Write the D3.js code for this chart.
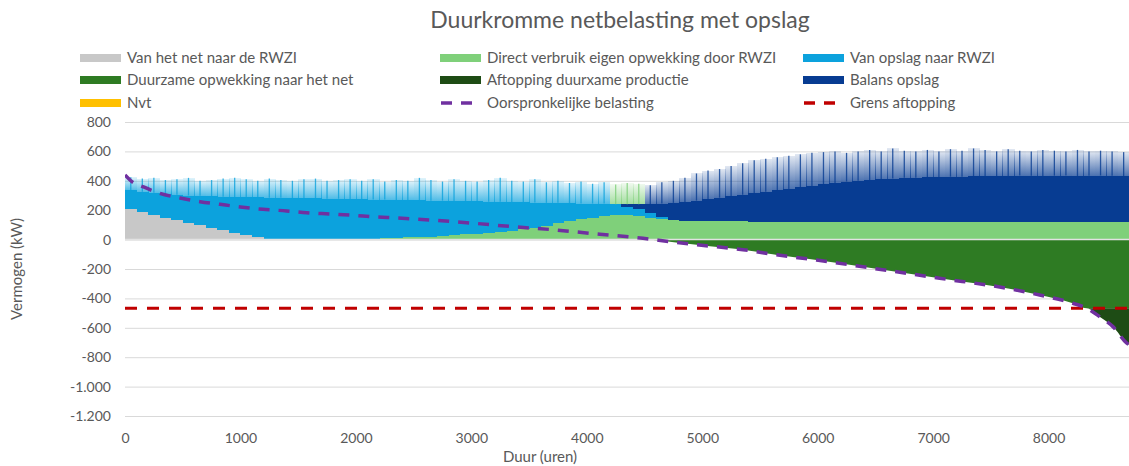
<!DOCTYPE html>
<html>
<head>
<meta charset="utf-8">
<title>Duurkromme netbelasting met opslag</title>
<style>
  body { margin: 0; background: #fff; }
  svg { display: block; font-family: Lato, "Open Sans", sans-serif; }
  .tick text { fill: #595959; font-size: 14px; font-family: Lato, "Open Sans", sans-serif; }
</style>
</head>
<body>
<svg width="1129" height="466"></svg>
<script src="https://d3js.org/d3.v7.min.js"></script>
<script>

// 100-hour bins along the sorted year (bin start hour)
var binStart = d3.range(0, 8760, 100);

// positive stack (kW), read per bin
var gray = [205,185,165,148,132,112,98,82,62,48,
            32,15,4,0,0,0,0,0,0,0,
            0,0,0,0,0,0,0,0,0,0,
            0,0,0,0,0,0,0,0,0,0,
            0,0,0,0,0,0,0,0,0,0,
            0,0,0,0,0,0,0,0,0,0,
            0,0,0,0,0,0,0,0,0,0,
            0,0,0,0,0,0,0,0,0,0,
            0,0,0,0,0,0,0,0];
var lightGreen = [0,0,0,0,0,0,0,0,0,0,
            0,0,0,0,0,0,0,0,0,0,
            5,5,10,10,15,15,20,25,30,35,
            40,45,50,60,70,80,95,110,125,140,
            150,160,165,165,160,150,140,130,125,125,
            125,125,125,125,122,122,122,122,120,120,
            120,120,120,120,120,120,120,120,120,120,
            120,118,120,120,118,120,120,118,120,120,
            120,118,120,120,118,120,120,120];
var lightBlue = [130,140,153,164,173,188,200,213,230,242,
            258,273,281,285,282,280,280,278,278,275,
            270,267,262,260,255,253,245,240,232,227,
            220,213,208,195,185,172,155,140,123,105,
            95,85,75,60,45,30,15,5,0,0,
            0,0,0,0,0,0,0,0,0,0,
            0,0,0,0,0,0,0,0,0,0,
            0,0,0,0,0,0,0,0,0,0,
            0,0,0,0,0,0,0,0];
var darkBlue = [0,0,0,0,0,0,0,0,0,0,
            0,0,0,0,0,0,0,0,0,0,
            0,0,0,0,0,0,0,0,0,0,
            0,0,0,0,0,0,0,0,0,0,
            0,0,0,15,35,60,90,115,130,140,
            150,160,170,180,193,203,213,223,235,245,
            255,265,275,280,285,290,295,300,300,305,
            305,310,308,312,315,310,312,318,315,312,
            315,318,312,315,318,315,312,310];
// highest spikes per bin
var peak = [425,415,420,405,410,420,400,405,415,420,
            410,400,415,405,400,410,415,400,405,410,
            400,410,395,405,400,420,405,395,410,400,
            395,405,420,400,395,410,390,400,385,395,
            380,390,375,385,380,370,390,400,420,450,
            470,480,500,520,540,550,560,570,580,590,
            595,600,590,600,610,600,620,605,600,610,
            600,615,605,620,610,600,615,605,600,610,
            605,600,610,600,605,600,595,600];

// original net load duration curve (hour, kW)
var loadHour = [0,60,160,300,476,650,823,1000,1195,1400,1573,1775,1977,2150,2355,2960,3360,3740,4113,4487,4720,4893,5240,5412,5610,5990,6477,7056,7636,7922,8210,8330,8442,8557,8675,8760];
var loadKW   = [440,395,358,315,283,258,240,222,206,195,183,174,165,155,147,115,88,65,36,9,-14,-30,-59,-75,-100,-139,-195,-263,-331,-377,-433,-467,-524,-592,-703,-740];
var grens = -467;

var yTicks = [-1200,-1000,-800,-600,-400,-200,0,200,400,600,800];
var xTicks = [0,1000,2000,3000,4000,5000,6000,7000,8000];

var colors = {
  gray: "#c8c8c8",
  lightGreen: "#7fd07a",
  lightBlue: "#0ca2dd",
  darkGreen: "#2e7b23",
  curtail: "#1e4c15",
  darkBlue: "#073c92",
  nvt: "#ffc000",
  load: "#7030a0",
  grens: "#c00000"
};

var legendItems = [
  {label: "Van het net naar de RWZI", color: colors.gray, type: "rect"},
  {label: "Direct verbruik eigen opwekking door RWZI", color: colors.lightGreen, type: "rect"},
  {label: "Van opslag naar RWZI", color: colors.lightBlue, type: "rect"},
  {label: "Duurzame opwekking naar het net", color: colors.darkGreen, type: "rect"},
  {label: "Aftopping duurxame productie", color: colors.curtail, type: "rect"},
  {label: "Balans opslag", color: colors.darkBlue, type: "rect"},
  {label: "Nvt", color: colors.nvt, type: "rect"},
  {label: "Oorspronkelijke belasting", color: colors.load, type: "dash"},
  {label: "Grens aftopping", color: colors.grens, type: "dash"}
];

var nl = d3.formatLocale({decimal: ",", thousands: ".", grouping: [3], currency: ["€", ""], minus: "-"});
var fmtY = nl.format(",d");

var svg = d3.select("svg"),
    plotLeft = 125, plotTop = 122, plotBottom = 416,
    plotRight = plotLeft + 8760 * 0.11545;

var x = d3.scaleLinear().domain([0, 8760]).range([plotLeft, plotRight]);
var y = d3.scaleLinear().domain([-1200, 800]).range([plotBottom, plotTop]);

// title
svg.append("text")
    .attr("x", 620).attr("y", 28)
    .attr("text-anchor", "middle")
    .style("font-size", "23px").style("fill", "#595959")
    .text("Duurkromme netbelasting met opslag");

// legend, 3 columns
var colX = [80, 440, 803], rowY = [58, 80, 103];
var lg = svg.append("g").selectAll("g")
    .data(legendItems)
    .enter().append("g")
    .attr("transform", function(d, i) { return "translate(" + colX[i % 3] + "," + rowY[Math.floor(i / 3)] + ")"; });
lg.filter(function(d) { return d.type === "rect"; }).append("rect")
    .attr("x", 0).attr("y", -4).attr("width", 41).attr("height", 8)
    .attr("fill", function(d) { return d.color; });
lg.filter(function(d) { return d.type === "dash"; }).append("line")
    .attr("x1", 1).attr("x2", 41).attr("y1", 0).attr("y2", 0)
    .attr("stroke", function(d) { return d.color; })
    .attr("stroke-width", 3.5)
    .attr("stroke-dasharray", "11,9");
lg.append("text")
    .attr("x", 47).attr("y", 0).attr("dy", "0.35em")
    .style("font-size", "15px").style("fill", "#595959")
    .text(function(d) { return d.label; });

// gridlines + y axis
var yAxis = svg.append("g")
    .attr("transform", "translate(" + plotLeft + ",0)")
    .call(d3.axisLeft(y).tickValues(yTicks).tickFormat(fmtY).tickSize(-(plotRight - plotLeft)).tickPadding(14));
yAxis.select(".domain").remove();
yAxis.selectAll(".tick line").attr("stroke", "#d9d9d9");

var xAxis = svg.append("g")
    .attr("transform", "translate(0," + (plotBottom + 9) + ")")
    .call(d3.axisBottom(x).tickValues(xTicks).tickFormat(d3.format("d")).tickSize(0).tickPadding(8));
xAxis.select(".domain").remove();

svg.append("text")
    .attr("x", 540).attr("y", 462)
    .attr("text-anchor", "middle")
    .style("font-size", "15px").style("fill", "#595959")
    .text("Duur (uren)");
svg.append("text")
    .attr("transform", "translate(22," + ((plotTop + plotBottom) / 2) + ") rotate(-90)")
    .attr("text-anchor", "middle")
    .style("font-size", "15px").style("fill", "#595959")
    .text("Vermogen (kW)");

// fading gradients for the spiky tops
var defs = svg.append("defs");
["lightBlue", "lightGreen", "darkBlue"].forEach(function(k) {
  var gr = defs.append("linearGradient").attr("id", "fade-" + k)
      .attr("x1", 0).attr("x2", 0).attr("y1", 1).attr("y2", 0);
  gr.append("stop").attr("offset", 0).attr("stop-color", colors[k]).attr("stop-opacity", 0.72);
  gr.append("stop").attr("offset", 1).attr("stop-color", colors[k]).attr("stop-opacity", 0.12);
});
defs.append("clipPath").attr("id", "plot")
  .append("rect").attr("x", plotLeft).attr("y", plotTop - 10).attr("width", plotRight - plotLeft).attr("height", plotBottom - plotTop + 10);

var plot = svg.append("g").attr("clip-path", "url(#plot)");

// stacked bars
var rows = binStart.map(function(h, i) {
  return {h: h, gray: gray[i], lightGreen: lightGreen[i], lightBlue: lightBlue[i], darkBlue: darkBlue[i], peak: peak[i]};
});
var keys = ["gray", "lightGreen", "lightBlue", "darkBlue"];
var stack = d3.stack().keys(keys)(rows);

function binEnd(h) { return Math.min(h + 100, 8760); }

plot.append("g").selectAll("g")
  .data(stack)
  .enter().append("g")
    .attr("fill", function(s) { return colors[s.key]; })
  .selectAll("rect")
  .data(function(s) { return s; })
  .enter().append("rect")
    .attr("shape-rendering", "crispEdges")
    .attr("x", function(d) { return x(d.data.h); })
    .attr("width", function(d) { return x(binEnd(d.data.h)) - x(d.data.h) + 0.6; })
    .attr("y", function(d) { return y(d[1]); })
    .attr("height", function(d) { return Math.max(0, y(d[0]) - y(d[1])); });

function topKey(d) {
  if (d.darkBlue > d.lightBlue) return "darkBlue";
  if (d.lightBlue >= d.lightGreen * 0.5) return "lightBlue";
  return "lightGreen";
}
function total(d) { return d.gray + d.lightGreen + d.lightBlue + d.darkBlue; }

plot.append("g").selectAll("rect")
  .data(rows)
  .enter().append("rect")
    .attr("shape-rendering", "crispEdges")
    .attr("x", function(d) { return x(d.h); })
    .attr("width", function(d) { return x(binEnd(d.h)) - x(d.h) + 0.6; })
    .attr("y", function(d) { return y(d.peak); })
    .attr("height", function(d) { return y(total(d)) - y(d.peak); })
    .attr("fill", function(d) { return "url(#fade-" + topKey(d) + ")"; });

plot.append("g").selectAll("line")
  .data(rows)
  .enter().append("line")
    .attr("x1", function(d) { return x(d.h + 50); })
    .attr("x2", function(d) { return x(d.h + 50); })
    .attr("y1", function(d) { return y(total(d)); })
    .attr("y2", function(d) { return y(d.peak); })
    .attr("stroke", function(d) { return colors[topKey(d)]; })
    .attr("stroke-width", 1.3)
    .attr("opacity", 0.8);

// negative side from the original load curve
var load = loadHour.map(function(h, i) { return {h: h, v: loadKW[i]}; });

plot.append("path")
    .datum(load)
    .attr("fill", colors.darkGreen)
    .attr("d", d3.area().curve(d3.curveMonotoneX)
      .x(function(d) { return x(d.h); })
      .y0(y(0))
      .y1(function(d) { return y(Math.min(0, Math.max(d.v, grens))); }));

plot.append("path")
    .datum(load)
    .attr("fill", colors.curtail)
    .attr("d", d3.area().curve(d3.curveMonotoneX)
      .x(function(d) { return x(d.h); })
      .y0(y(grens))
      .y1(function(d) { return y(Math.min(d.v, grens)); }));

// zero line over the bars
plot.append("line")
    .attr("x1", plotLeft).attr("x2", plotRight)
    .attr("y1", y(0)).attr("y2", y(0))
    .attr("stroke", "#e2e2e2").attr("stroke-width", 1.5);

// lines
plot.append("line")
    .attr("x1", plotLeft).attr("x2", plotRight)
    .attr("y1", y(grens)).attr("y2", y(grens))
    .attr("stroke", colors.grens).attr("stroke-width", 3)
    .attr("stroke-dasharray", "12,10");

plot.append("path")
    .datum(load)
    .attr("fill", "none")
    .attr("stroke", colors.load).attr("stroke-width", 3.5)
    .attr("stroke-dasharray", "11,9")
    .attr("d", d3.line().curve(d3.curveMonotoneX)
      .x(function(d) { return x(d.h); })
      .y(function(d) { return y(d.v); }));

</script>
</body>
</html>
